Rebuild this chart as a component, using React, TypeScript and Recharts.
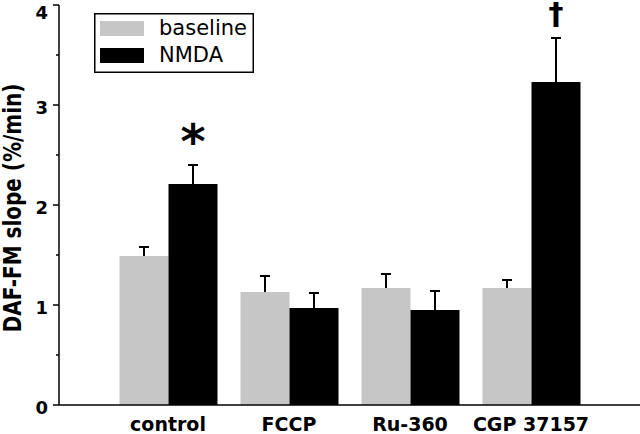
import { Bar, BarChart, LabelList, XAxis, YAxis } from "recharts";

const categories = ["control", "FCCP", "Ru-360", "CGP 37157"];
const baseline = [1.49, 1.13, 1.17, 1.17];
const baselineSem = [0.09, 0.16, 0.14, 0.08];
const nmda = [2.21, 0.97, 0.95, 3.23];
const nmdaSem = [0.19, 0.15, 0.19, 0.44];
const marks = ["*", "", "", "\u2020"];
const yTicks = [0, 0.5, 1, 1.5, 2, 2.5, 3, 3.5, 4];
const seriesNames = ["baseline", "NMDA"];

const data = categories.map((name, i) => ({
  name,
  baseline: baseline[i],
  baselineSem: baselineSem[i],
  nmda: nmda[i],
  nmdaSem: nmdaSem[i],
  mark: marks[i],
}));

const GRAY = "#c6c6c6";
const seriesColors = [GRAY, "#000"];
const FONT = "'DejaVu Sans', sans-serif";
const TICK_SIZE = 6;
const TICK_MARGIN = 5;

// bar with an upward-only error bar, scaled off the bar's own height
const barWithError = (semKey: string) => (props: any) => {
  const { x, y, width, height, fill, payload, value } = props;
  const v = Array.isArray(value) ? value[1] - value[0] : value;
  const ppu = v ? height / v : 0;
  const top = y - payload[semKey] * ppu;
  const cx = x + width / 2;
  return (
    <g>
      <rect x={x} y={y} width={width} height={height} fill={fill} />
      <line x1={cx} x2={cx} y1={y} y2={top} stroke="#000" strokeWidth={2} />
      <line x1={cx - 5} x2={cx + 5} y1={top} y2={top} stroke="#000" strokeWidth={2} />
    </g>
  );
};

const YTick = (props: any) => {
  const { x, y, payload } = props;
  const ax = x + TICK_SIZE + TICK_MARGIN;
  const major = Number.isInteger(payload.value);
  return (
    <g>
      <line x1={ax - (major ? 6 : 3)} x2={ax} y1={y} y2={y} stroke="#000" strokeWidth={1.5} />
      {major && (
        <text x={x} y={Math.max(y + 2, 12)} textAnchor="end" dominantBaseline="central"
          fontFamily={FONT} fontWeight="bold" fontSize={18} fill="#000">
          {payload.value}
        </text>
      )}
    </g>
  );
};

const YTitle = (props: any) => {
  const { viewBox } = props;
  const cy = viewBox.y + viewBox.height / 2 + 3;
  return (
    <text transform={`translate(21,${cy}) scale(1.2,1) rotate(-90)`} textAnchor="middle"
      fontFamily={FONT} fontWeight="bold" fontSize={20} fill="#000">
      DAF-FM slope (%/min)
    </text>
  );
};

const SigMark = (props: any) => {
  const { x, y, width, height, value, index } = props;
  if (!value) return null;
  const ppu = height / nmda[index];
  const cap = y - nmdaSem[index] * ppu;
  const cx = x + width / 2;
  if (value === "*") {
    return (
      <text x={cx} y={cap - 7} textAnchor="middle" fontFamily={FONT} fontWeight="bold"
        fontSize={48} fill="#000">{value}</text>
    );
  }
  return (
    <text x={cx} y={cap - 14} textAnchor="middle" fontFamily={FONT} fontWeight="bold"
      fontSize={30} fill="#000">{value}</text>
  );
};

const LegendBox = () => (
  <svg width={160} height={60} style={{ position: "absolute", left: 94, top: 13 }}>
    <rect x={0.75} y={0.75} width={158.5} height={58.5} fill="#fff" stroke="#000" strokeWidth={1.5} />
    {seriesNames.map((name, i) => (
      <g key={name}>
        <rect x={6} y={8 + i * 27} width={44} height={15} fill={seriesColors[i]} />
        <text x={65} y={22 + i * 27} fontFamily={FONT} fontSize={21} fill="#000">
          {name}
        </text>
      </g>
    ))}
  </svg>
);

export default function App() {
  return (
    <div style={{ position: "absolute", left: 0, top: 0, width: 640, height: 434, background: "#fff" }}>
      <BarChart
        width={640}
        height={434}
        data={data}
        margin={{ top: 5, right: 0, bottom: 0, left: 0 }}
        barCategoryGap={12}
        barGap={0}
      >
        <XAxis
          dataKey="name"
          height={29}
          padding={{ left: 48.5, right: 48.5 }}
          axisLine={{ stroke: "#000", strokeWidth: 1.5 }}
          tickLine={false}
          tickMargin={7}
          tick={{ fill: "#000", fontSize: 19, fontWeight: "bold", fontFamily: FONT }}
          interval={0}
        />
        <YAxis
          width={59}
          domain={[0, 4]}
          ticks={yTicks}
          interval={0}
          axisLine={{ stroke: "#000", strokeWidth: 1.5 }}
          tickLine={false}
          tickSize={TICK_SIZE}
          tickMargin={TICK_MARGIN}
          tick={<YTick />}
          label={<YTitle />}
        />
        <Bar dataKey="baseline" name={seriesNames[0]} fill={seriesColors[0]} isAnimationActive={false}
          shape={barWithError("baselineSem")} />
        <Bar dataKey="nmda" name={seriesNames[1]} fill={seriesColors[1]} isAnimationActive={false}
          shape={barWithError("nmdaSem")}>
          <LabelList dataKey="mark" content={<SigMark />} />
        </Bar>
      </BarChart>
      <LegendBox />
    </div>
  );
}
